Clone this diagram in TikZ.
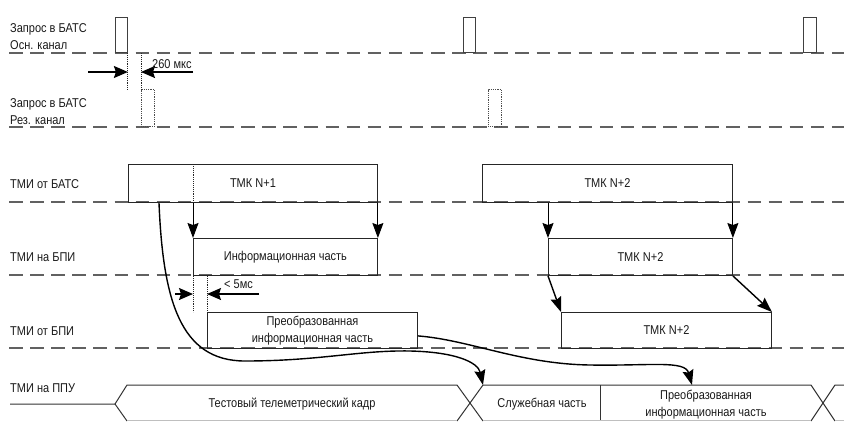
\documentclass[tikz,border=0pt]{standalone}
\usepackage{fontspec}
\setmainfont{Liberation Sans}[FakeStretch=0.86]
\usetikzlibrary{arrows.meta}
\begin{document}
\begin{tikzpicture}[x=1pt,y=-1pt,
  font=\fontsize{12.8}{17}\selectfont,
  every node/.style={text=black!90},
  baseline/.style={line width=1.4pt, draw=black!62, dash pattern=on 13.5pt off 7.6pt},
  box/.style={draw=black!85, line width=0.9pt, inner sep=0pt, anchor=north west, align=center},
  pulse/.style={draw=black!75, line width=0.9pt, inner sep=0pt, anchor=south west},
  rpulse/.style={draw=black!70, line width=0.8pt, densely dotted, inner sep=0pt, anchor=south west},
  vdot/.style={draw=black!85, line width=0.9pt, densely dotted},
  arr/.style={draw=black, line width=1pt, -{Stealth[length=15pt,width=11pt,inset=2pt]}},
  darr/.style={draw=black, line width=1.5pt, -{Stealth[length=14pt,width=12pt,inset=2pt]}},
  curv/.style={draw=black, line width=1.4pt, -{Stealth[length=15pt,width=11pt,inset=2pt]}},
  frame/.style={draw=black!80, line width=1pt},
  lab/.style={anchor=base west, inner sep=0pt}
]
\useasboundingbox (0,0) rectangle (844,421);

% baselines
\foreach \yy in {53,127,202,275,348} \draw[baseline] (9,\yy) -- (844,\yy);

% row labels
\node[lab] (l1a) at (10,32) {Запрос в БАТС};
\node[lab] (l1b) at (10,49.5) {Осн. канал};
\node[lab] (l2a) at (10,107) {Запрос в БАТС};
\node[lab] (l2b) at (10,124.5) {Рез. канал};
\node[lab] (l3) at (10,188) {ТМИ от БАТС};
\node[lab] (l4) at (10,261) {ТМИ на БПИ};
\node[lab] (l5) at (10,335) {ТМИ от БПИ};
\node[lab] (l6) at (10,392) {ТМИ на ППУ};

% request pulses
\node[pulse, minimum width=12pt, minimum height=35pt] (p1) at (115,53) {};
\node[pulse, minimum width=12pt, minimum height=35pt] (p2) at (463,53) {};
\node[pulse, minimum width=13pt, minimum height=35pt] (p3) at (803,53) {};
\node[rpulse, minimum width=13pt, minimum height=37pt] (r1) at (141,127) {};
\node[rpulse, minimum width=13pt, minimum height=37pt] (r2) at (488,127) {};

% 260 mks dimension
\draw[vdot] (p1.south east) -- (p1.south east |- r1.north);
\draw[vdot] (r1.north west |- p1.south) -- (r1.north west);
\coordinate (dl1) at (88,72);
\coordinate (dr1) at (193,72);
\draw[darr] (dl1) -- (dl1 -| p1.east);
\draw[darr] (dr1) -- (dr1 -| r1.west);
\node[lab] (t260) at (152,68) {260 мкс};

% TMI boxes, frame N+1
\node[box, minimum width=249pt, minimum height=38pt] (tmk1) at (128,164) {ТМК N+1};
\node[box, minimum width=184pt, minimum height=37pt] (info1) at (193,238) {Информационная часть};
\node[box, minimum width=210pt, minimum height=36pt] (conv1) at (207,312) {Преобразованная\\информационная часть};

\draw[vdot] (tmk1.north -| info1.north west) -- (tmk1.south -| info1.north west);
\draw[arr] (tmk1.south -| info1.north west) -- (info1.north west);
\draw[arr] (tmk1.south east) -- (info1.north east);

% < 5 ms dimension
\draw[vdot] (info1.south west) -- (info1.south west |- conv1.north);
\draw[vdot] (conv1.north west |- info1.south) -- (conv1.north west);
\coordinate (dl2) at (175,294);
\coordinate (dr2) at (259,294);
\draw[darr] (dl2) -- (dl2 -| info1.west);
\draw[darr] (dr2) -- (dr2 -| conv1.west);
\node[lab] (t5) at (224,288) {< 5мс};

% frame N+2
\node[box, minimum width=250pt, minimum height=38pt] (tmk2) at (482,164) {ТМК N+2};
\node[box, minimum width=184pt, minimum height=37pt] (tmk2b) at (548,238) {ТМК N+2};
\node[box, minimum width=210pt, minimum height=36pt] (tmk2c) at (561,312) {ТМК N+2};
\draw[arr] (tmk2.south -| tmk2b.north west) -- (tmk2b.north west);
\draw[arr] (tmk2.south east) -- (tmk2b.north east);
\draw[curv] (tmk2b.south west) -- (tmk2c.north west);
\draw[curv] (tmk2b.south east) -- (tmk2c.north east);

% PPU row
\coordinate (hl) at (115,404);
\coordinate (sluzh) at (483,385);
\coordinate (preob) at (692,385);
\draw[frame] (10,404) -- (hl) -- (127,385) -- (457,385) -- (483,421);
\draw[frame] (hl) -- (127,421);
\draw[frame] (457,421) -- (sluzh) -- (811,385) -- (835,421);
\draw[frame] (811,421) -- (835,385) -- (844,385);
\draw[frame] (600,385) -- (600,421);
\draw[black!25, line width=0.8pt] (127,420.5) -- (457,420.5) (483,420.5) -- (811,420.5) (835,420.5) -- (844,420.5);
\node (k1) at (292,404) {Тестовый телеметрический кадр};
\node (k2) at (542,404) {Служебная часть};
\node[align=center, inner sep=0pt] (k3) at (706,405) {Преобразованная\\информационная часть};

% curves
\coordinate (c1s) at ([xshift=31pt]tmk1.south west);
\coordinate (c2s) at ([yshift=13pt]conv1.south east);
\draw[curv] (c1s) .. controls (163,300) and (180,361) .. (245,361)
  .. controls (320,361) and (360,350) .. (410,351)
  .. controls (455,352) and (478,362) .. (sluzh);
\draw[curv] (c2s) .. controls (470,340) and (520,364) .. (590,365)
  .. controls (650,366) and (685,360) .. (preob);
\end{tikzpicture}
\end{document}
